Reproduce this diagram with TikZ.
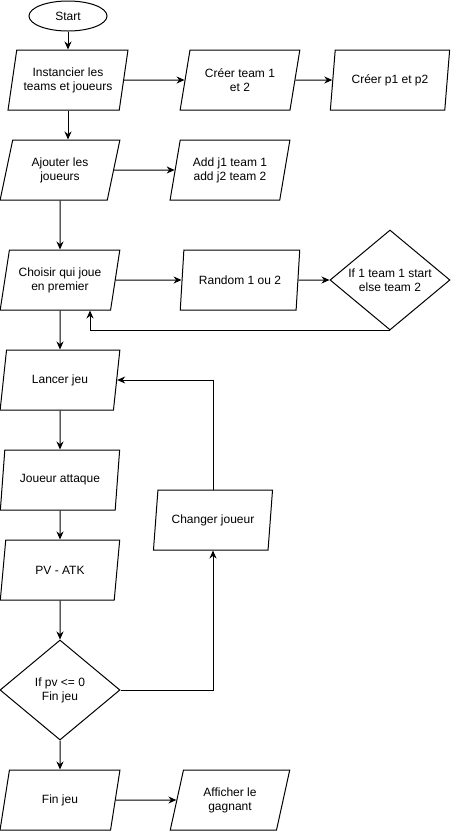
\documentclass[tikz,border=0pt]{standalone}
\usepackage{fontspec}
\setmainfont{Liberation Sans}
\usetikzlibrary{shapes.geometric,arrows.meta,calc}
\begin{document}
\begin{tikzpicture}[x=1pt,y=-1pt,
  every node/.style={font=\fontsize{12}{14}\selectfont, align=center},
  para/.style={draw, line width=1pt, trapezium, trapezium left angle=73.3, trapezium right angle=106.7,
    trapezium stretches=true, minimum width=120pt, minimum height=60pt, inner sep=0pt},
  dec/.style={draw, line width=1pt, diamond, aspect=1.2, minimum width=120pt, minimum height=100pt, inner sep=0pt},
  term/.style={draw, line width=1pt, ellipse, minimum width=78pt, minimum height=30pt, inner sep=0pt},
  conn/.style={line width=1pt, -{Stealth[length=8pt,width=7pt]}}]
\useasboundingbox (0,0) rectangle (451,831);
\node[term] (start) at (68,16) {Start};
\node[para] (inst) at (68,80) {Instancier les\\teams et joueurs};
\node[para] (team) at (240,80) {Créer team 1\\et 2};
\node[para] (p12) at (390,80) {Créer p1 et p2};
\node[para] (ajout) at (60,170) {Ajouter les\\joueurs};
\node[para] (addj) at (230,170) {Add j1 team 1\\add j2 team 2};
\node[para] (choisir) at (60,280) {Choisir qui joue\\en premier};
\node[para] (random) at (240,280) {Random 1 ou 2};
\node[dec] (d1) at (390,280) {If 1 team 1 start\\else team 2};
\node[para] (lancer) at (60,380) {Lancer jeu};
\node[para] (attaque) at (60,480) {Joueur attaque};
\node[para] (pvatk) at (60,570) {PV - ATK};
\node[dec] (d2) at (60,690) {If pv <= 0\\Fin jeu};
\node[para] (fin) at (60,800) {Fin jeu};
\node[para] (affich) at (230,800) {Afficher le\\gagnant};
\node[para] (changer) at (213,520) {Changer joueur};

\draw[conn] (start) -- (inst);
\draw[conn] (inst.east) -- (team.west);
\draw[conn] (team.east) -- (p12.west);
\draw[conn] (inst.south) -- (inst.south |- ajout.north);
\draw[conn] (ajout.east) -- (addj.west);
\draw[conn] (ajout.south) -- (choisir.north);
\draw[conn] (choisir.east) -- (random.west);
\draw[conn] (random.east) -- (d1.west);
\draw[conn] (d1.south) -| ([xshift=30pt]choisir.south);
\draw[conn] (choisir.south) -- (lancer.north);
\draw[conn] (lancer.south) -- (attaque.north);
\draw[conn] (attaque.south) -- (pvatk.north);
\draw[conn] (pvatk.south) -- (d2.north);
\draw[conn] (d2.south) -- (fin.north);
\draw[conn] (fin.east) -- (affich.west);
\draw[conn] (d2.east) -| (changer.south);
\draw[conn] (changer.north) |- (lancer.east);
\end{tikzpicture}
\end{document}
